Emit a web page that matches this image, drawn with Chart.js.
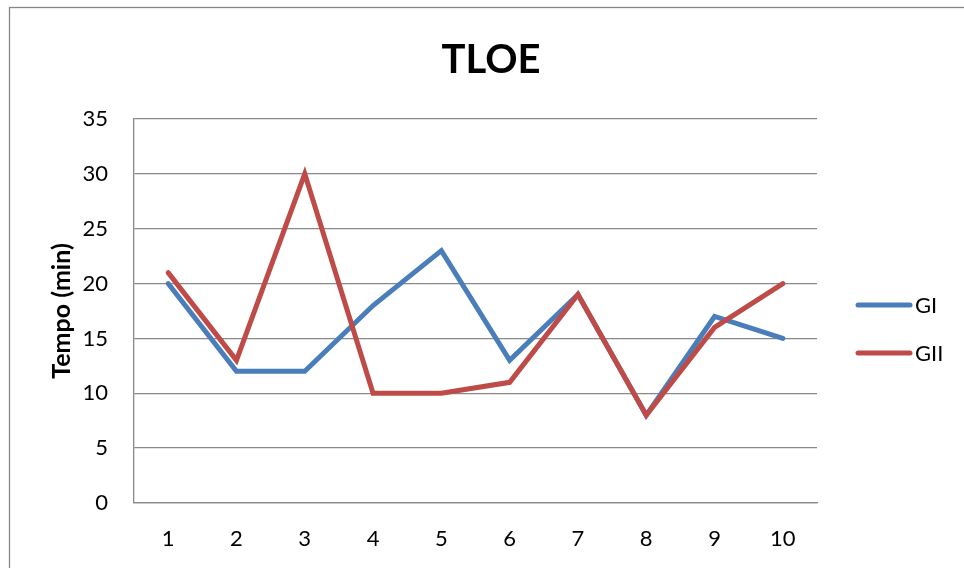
<!DOCTYPE html>
<html>
<head>
<meta charset="utf-8">
<script src="https://cdn.jsdelivr.net/npm/chart.js@4.4.1/dist/chart.umd.min.js"></script>
<style>
  html, body { margin: 0; padding: 0; background: #fff; }
  #wrap { width: 964px; height: 568px; position: relative; }
</style>
</head>
<body>
<div id="wrap"><canvas id="c" width="964" height="568"></canvas></div>
<script>
const categories = ['1', '2', '3', '4', '5', '6', '7', '8', '9', '10'];
const seriesNames = ['GI', 'GII'];
const giValues = [20, 12, 12, 18, 23, 13, 19, 8, 17, 15];
const giiValues = [21, 13, 30, 10, 10, 11, 19, 8, 16, 20];
const yTicks = [0, 5, 10, 15, 20, 25, 30, 35];
const chartTitle = 'TLOE';
const yTitle = 'Tempo (min)';

const FONT = 'Lato, "Open Sans", sans-serif';
const GRID = '#898989';

// Outer frame, title and the legend on the right
const decorations = {
  id: 'decorations',
  beforeDraw(chart) {
    const ctx = chart.ctx;
    ctx.save();
    ctx.fillStyle = '#fff';
    ctx.fillRect(0, 0, chart.width, chart.height);
    ctx.strokeStyle = '#878787';
    ctx.lineWidth = 1.3;
    ctx.strokeRect(9.5, 7.5, chart.width + 20, chart.height + 20);
    ctx.restore();
  },
  afterDraw(chart) {
    const ctx = chart.ctx;
    ctx.save();
    ctx.fillStyle = '#000';
    ctx.font = 'bold 40px ' + FONT;
    ctx.textAlign = 'center';
    ctx.textBaseline = 'middle';
    ctx.fillText(chartTitle, 491, 60);

    ctx.font = '22px ' + FONT;
    ctx.textAlign = 'left';
    chart.data.datasets.forEach((ds, i) => {
      const y = 305 + i * 48;
      ctx.strokeStyle = ds.borderColor;
      ctx.lineWidth = 5;
      ctx.lineCap = 'round';
      ctx.beginPath();
      ctx.moveTo(858, y);
      ctx.lineTo(910, y);
      ctx.stroke();
      ctx.fillStyle = '#000';
      ctx.fillText(ds.label, 915, y + 1);
    });
    ctx.restore();
  }
};

new Chart(document.getElementById('c'), {
  type: 'line',
  data: {
    labels: categories,
    datasets: [
      {
        label: seriesNames[0],
        data: giValues,
        borderColor: '#4a7ebb',
        borderWidth: 5,
        order: 1
      },
      {
        label: seriesNames[1],
        data: giiValues,
        borderColor: '#be4b48',
        borderWidth: 5,
        order: 0
      }
    ]
  },
  options: {
    responsive: false,
    animation: false,
    devicePixelRatio: 1,
    layout: { padding: { top: 119, right: 147, left: 0, bottom: 0 } },
    elements: {
      point: { radius: 0, hoverRadius: 0 },
      line: { tension: 0, borderCapStyle: 'round', borderJoinStyle: 'miter', fill: false }
    },
    plugins: {
      legend: { display: false },
      title: { display: false },
      tooltip: { enabled: false }
    },
    scales: {
      x: {
        offset: true,
        grid: { display: false, drawTicks: false },
        border: { display: true, color: GRID, width: 1.3 },
        ticks: { color: '#000', font: { family: FONT, size: 22 }, padding: 23, maxRotation: 0 },
        afterFit(scale) { scale.height = 65; }
      },
      y: {
        min: 0,
        max: 35,
        afterBuildTicks(scale) { scale.ticks = yTicks.map(v => ({ value: v })); },
        grid: { color: GRID, lineWidth: 1.3, drawTicks: false },
        border: { display: true, color: GRID, width: 1.3 },
        ticks: { color: '#000', font: { family: FONT, size: 22 }, padding: 26 },
        title: {
          display: true,
          text: yTitle,
          color: '#000',
          font: { family: FONT, size: 25, weight: 'bold' },
          padding: { top: 47, bottom: 0 }
        },
        afterFit(scale) { scale.width = 134; }
      }
    }
  },
  plugins: [decorations]
});
</script>
</body>
</html>
